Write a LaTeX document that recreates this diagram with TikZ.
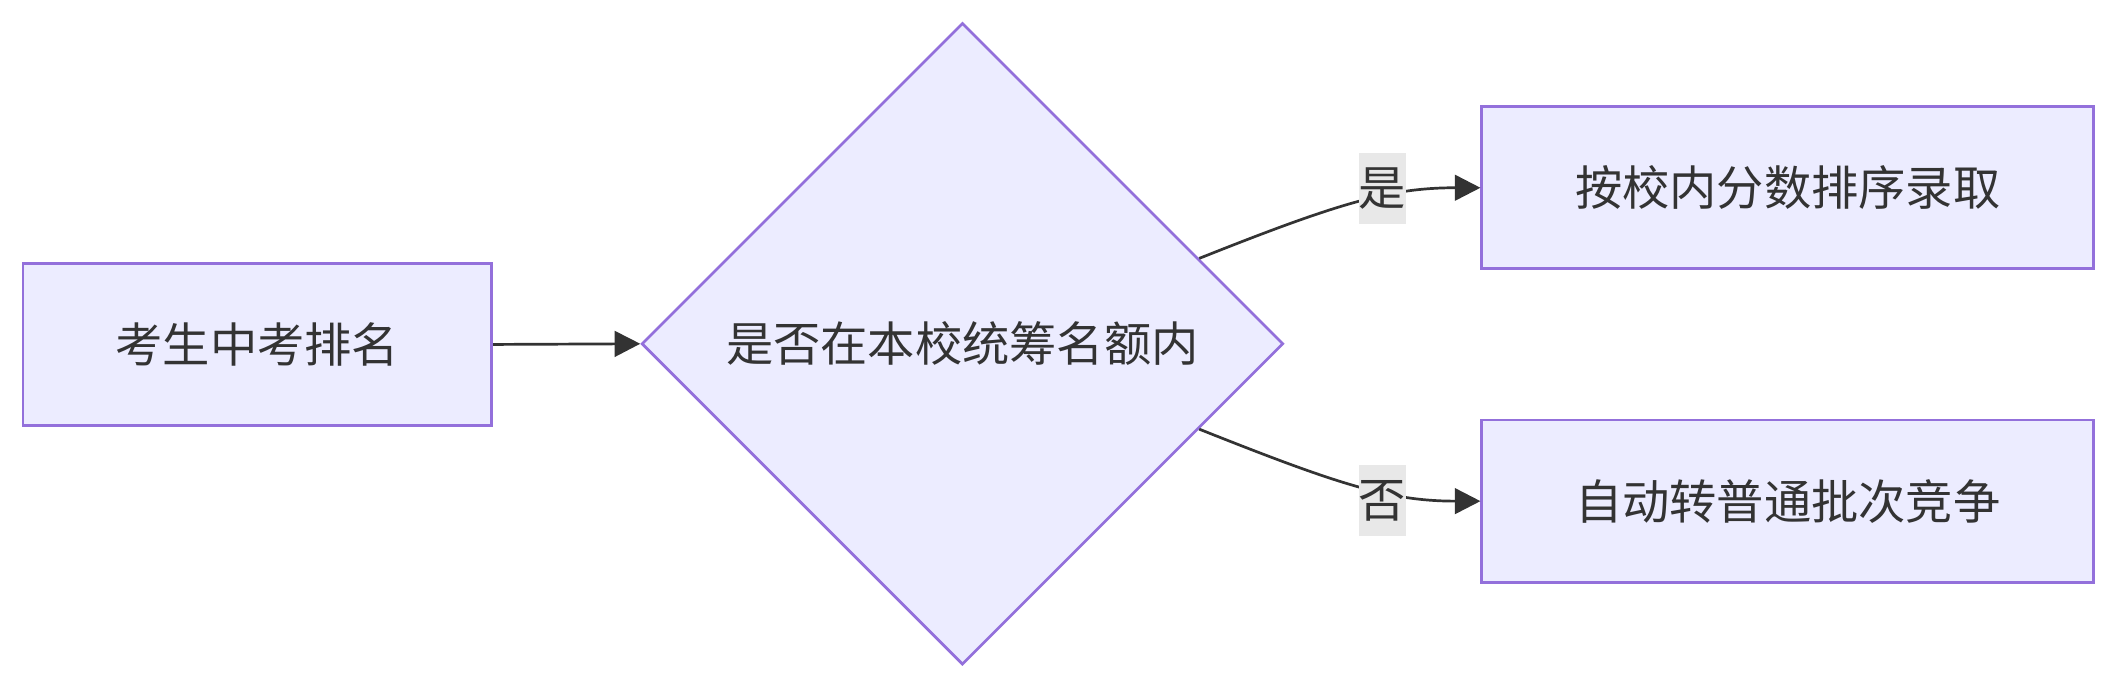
\documentclass[tikz,border=0pt]{standalone}
\usepackage{fontspec}
\setmainfont{Noto Sans CJK SC}
\usetikzlibrary{shapes.geometric,arrows.meta,calc}
\definecolor{nodefill}{HTML}{ECECFF}
\definecolor{nodeline}{HTML}{9370DB}
\definecolor{txt}{HTML}{333333}
\definecolor{lblbg}{HTML}{E8E8E8}
\tikzset{
  box/.style={draw=nodeline,fill=nodefill,line width=2pt,rectangle,inner sep=0pt,text=txt,font=\fontsize{35}{42}\selectfont},
  decision/.style={draw=nodeline,fill=nodefill,line width=2pt,diamond,aspect=1,inner sep=0pt,minimum width=475pt,minimum height=475pt,text=txt,font=\fontsize{35}{42}\selectfont},
  elabel/.style={fill=lblbg,inner sep=0pt,minimum width=35pt,minimum height=53pt,text=txt,font=\fontsize{35}{42}\selectfont},
  conn/.style={draw=txt,line width=2pt,-{Triangle[length=19pt,width=19pt]}}
}
\begin{document}
\begin{tikzpicture}[x=1pt,y=-1pt]
\useasboundingbox (0,0) rectangle (1568,510.8);
\node[box,minimum width=347pt,minimum height=120pt] (a) at (190.5,255) {考生中考排名};
\node[decision] (d) at (712.5,254.5) {是否在本校统筹名额内};
\node[box,minimum width=453pt,minimum height=120pt] (b) at (1323.5,139) {按校内分数排序录取};
\node[box,minimum width=453pt,minimum height=120pt] (c) at (1323.5,371) {自动转普通批次竞争};
\coordinate (dy) at ($(d.north)!0.735!(d.east)$);
\coordinate (dn) at ($(d.south)!0.735!(d.east)$);
\draw[conn] (a.east) -- (d.west);
\draw[conn] (dy) .. controls ($(dy)+(103,-41)$) and ($(b.west)+(-67,0)$) .. (b.west);
\draw[conn] (dn) .. controls ($(dn)+(103,41)$) and ($(c.west)+(-67,0)$) .. (c.west);
\node[elabel] (ly) at (1023.5,139.5) {是};
\node[elabel] (ln) at (1023.5,370.5) {否};
\end{tikzpicture}
\end{document}
